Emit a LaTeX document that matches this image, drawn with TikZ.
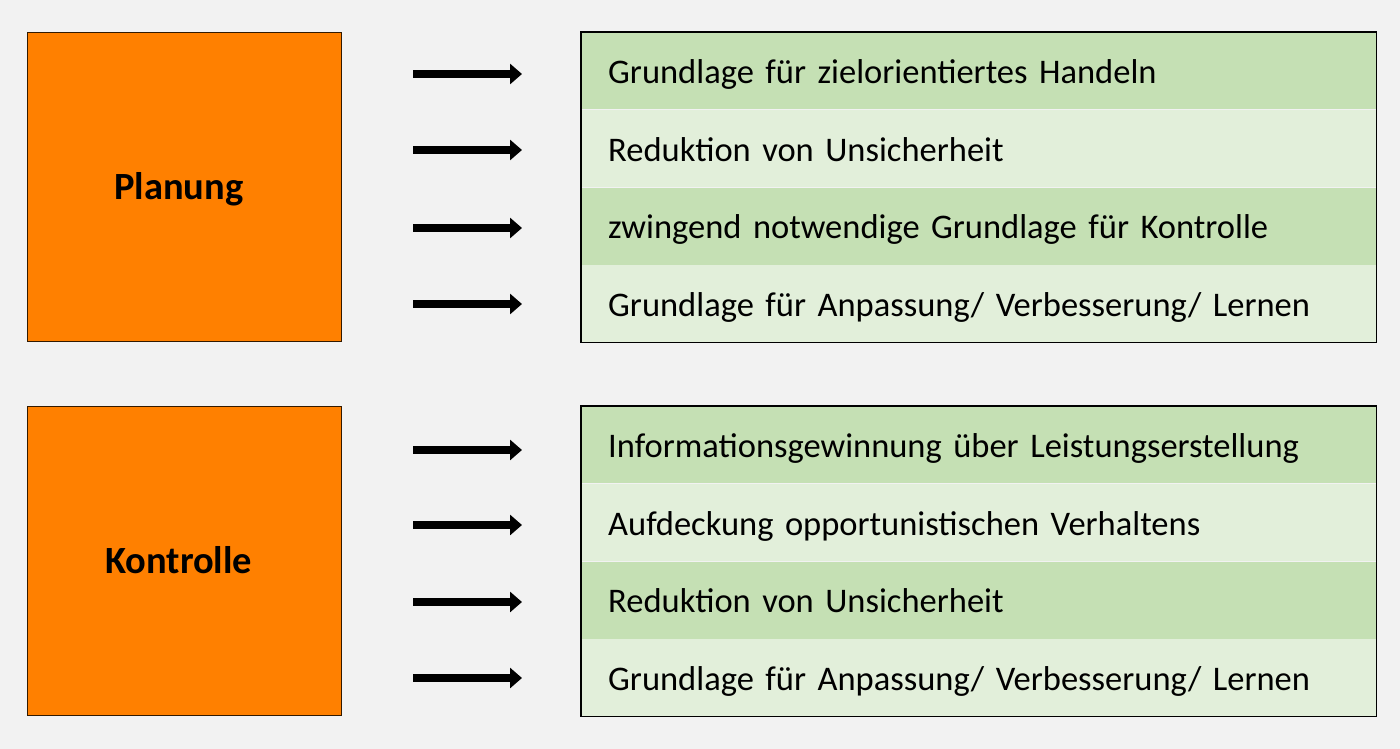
\documentclass[tikz,border=0pt]{standalone}
\usepackage{fontspec}
\setmainfont{Carlito}
\usetikzlibrary{arrows.meta}
\definecolor{bgcol}{HTML}{F2F2F2}
\definecolor{orangebox}{HTML}{FF8000}
\definecolor{greendark}{HTML}{C5E0B4}
\definecolor{greenlight}{HTML}{E2EFDA}
\begin{document}
\begin{tikzpicture}[x=1pt,y=-1pt,
   mainbox/.style={draw=black!80!orangebox, line width=1.3pt, fill=orangebox, anchor=north west,
      minimum width=314pt, minimum height=309pt, inner sep=0pt},
   mainlabel/.style={font=\fontsize{38.5}{46}\selectfont\bfseries, text height=25pt, text depth=0pt, inner sep=0pt},
   goal/.style={anchor=north west, inner xsep=27pt, inner ysep=0pt, text width=741pt,
      text height=25.5pt, text depth=0pt,
      minimum height=77.25pt, align=left, font=\fontsize{34.5}{40}\selectfont},
   goalarrow/.style={line width=8pt, -{Triangle[length=12pt,width=20pt]}}]
   \path[fill=bgcol] (0,0) rectangle (1400,749);
   \useasboundingbox (0,0) rectangle (1400,749);
   % linke Bloecke
   \node[mainbox] (plan) at (27,32) {};
   \node[mainlabel] (plantext) at ([xshift=-6pt]plan.center) {Planung};
   \node[mainbox] (kontr) at (27,406) {};
   \node[mainlabel] (kontrtext) at ([xshift=-6pt]kontr.center) {Kontrolle};
   % Ziele Planung
   \node[goal, fill=greendark] (p1) at (581,32) {Grundlage für zielorientiertes Handeln};
   \node[goal, fill=greenlight] (p2) at (p1.south west) {Reduktion von Unsicherheit};
   \node[goal, fill=greendark] (p3) at (p2.south west) {zwingend notwendige Grundlage für Kontrolle};
   \node[goal, fill=greenlight] (p4) at (p3.south west) {Grundlage für Anpassung/ Verbesserung/ Lernen};
   \draw[line width=1.3pt] (p1.north west) rectangle (p4.south east);
   % Ziele Kontrolle
   \node[goal, fill=greendark] (k1) at (581,406) {Informationsgewinnung über Leistungserstellung};
   \node[goal, fill=greenlight] (k2) at (k1.south west) {Aufdeckung opportunistischen Verhaltens};
   \node[goal, fill=greendark] (k3) at (k2.south west) {Reduktion von Unsicherheit};
   \node[goal, fill=greenlight] (k4) at (k3.south west) {Grundlage für Anpassung/ Verbesserung/ Lernen};
   \draw[line width=1.3pt] (k1.north west) rectangle (k4.south east);
   % Pfeile
   \foreach \r/\y in {p1/74,p2/150,p3/228,p4/304,k1/450,k2/525,k3/602,k4/678} {
      \coordinate (\r s) at (413,\y);
      \coordinate (\r e) at (522,\y);
      \draw[goalarrow] (\r s) -- (\r e);
   }
\end{tikzpicture}
\end{document}
